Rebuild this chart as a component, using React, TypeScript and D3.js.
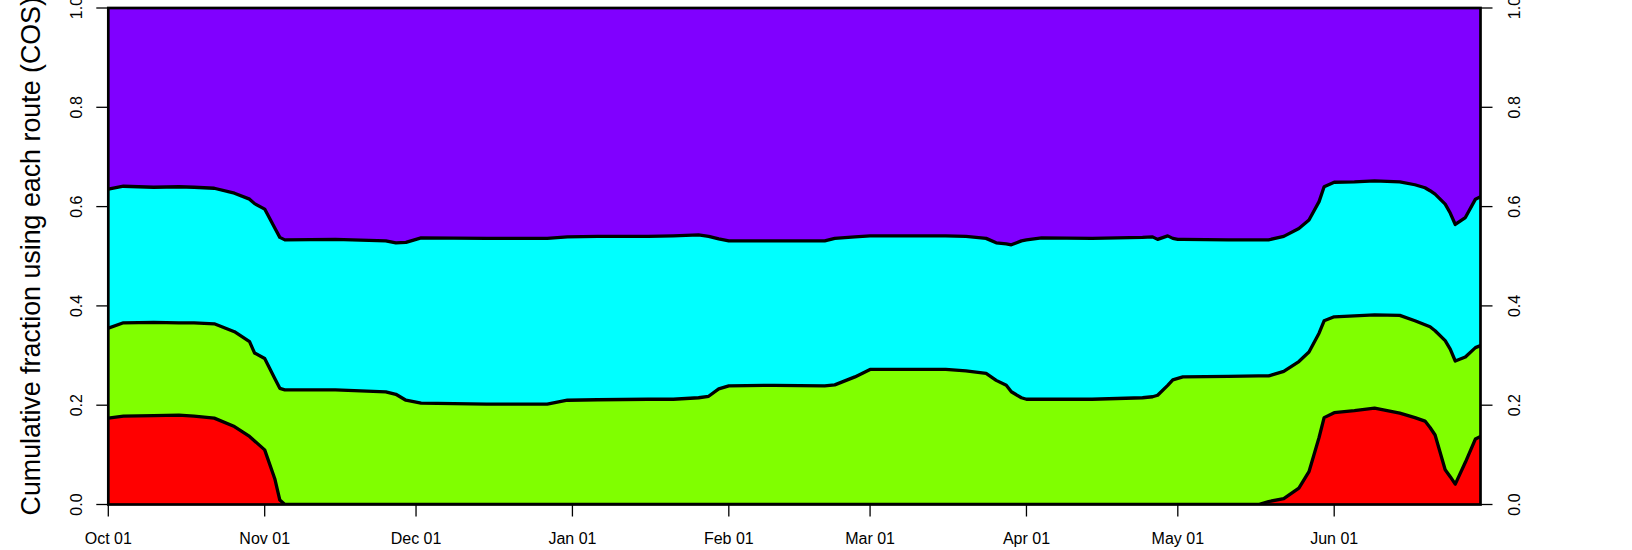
import React from "react";
import * as d3 from "d3";

const dates = [
  "2013-10-01","2013-10-04","2013-10-10","2013-10-15","2013-10-18","2013-10-22","2013-10-26","2013-10-29","2013-10-30",
  "2013-11-01","2013-11-03","2013-11-04","2013-11-05","2013-11-15","2013-11-25","2013-11-27","2013-11-29",
  "2013-12-02","2013-12-15","2013-12-27","2013-12-31",
  "2014-01-06","2014-01-16","2014-01-21","2014-01-26","2014-01-28","2014-01-30",
  "2014-02-01","2014-02-10","2014-02-20","2014-02-22","2014-02-26",
  "2014-03-01","2014-03-10","2014-03-16","2014-03-20","2014-03-24","2014-03-26","2014-03-28","2014-03-29","2014-03-31",
  "2014-04-01","2014-04-04","2014-04-14","2014-04-24","2014-04-26","2014-04-27","2014-04-29","2014-04-30",
  "2014-05-01","2014-05-02","2014-05-11","2014-05-17","2014-05-19","2014-05-22","2014-05-25","2014-05-27","2014-05-29","2014-05-30",
  "2014-06-01","2014-06-05","2014-06-09","2014-06-14","2014-06-17","2014-06-19","2014-06-20","2014-06-21","2014-06-23","2014-06-24","2014-06-25","2014-06-27","2014-06-29","2014-06-30",
];

// cumulative top of the red route
const redTop = [
  0.174,0.178,0.179,0.180,0.178,0.174,0.157,0.137,0.128,
  0.110,0.052,0.009,0,0,0,0,0,
  0,0,0,0,
  0,0,0,0,0,0,
  0,0,0,0,0,
  0,0,0,0,0,0,0,0,0,
  0,0,0,0,0,0,0,0,
  0,0,0,0,0.006,0.012,0.033,0.066,0.135,0.175,
  0.185,0.189,0.194,0.184,0.175,0.168,0.155,0.140,0.070,0.056,0.041,0.085,0.132,0.137,
];

// cumulative top of the green route
const greenTop = [
  0.355,0.366,0.367,0.366,0.366,0.364,0.348,0.328,0.305,
  0.294,0.254,0.234,0.231,0.231,0.227,0.222,0.210,
  0.204,0.202,0.202,0.210,
  0.211,0.212,0.212,0.215,0.218,0.233,
  0.239,0.240,0.239,0.241,0.257,
  0.272,0.272,0.272,0.269,0.264,0.250,0.240,0.227,0.215,
  0.212,0.212,0.212,0.215,0.217,0.220,0.240,0.251,
  0.254,0.257,0.258,0.259,0.259,0.268,0.288,0.307,0.345,0.370,
  0.378,0.380,0.382,0.381,0.370,0.362,0.358,0.350,0.330,0.313,0.289,0.297,0.316,0.320,
];

// cumulative top of the cyan route
const cyanTop = [
  0.635,0.641,0.639,0.640,0.639,0.637,0.627,0.615,0.606,
  0.595,0.557,0.538,0.533,0.534,0.531,0.527,0.528,
  0.537,0.536,0.536,0.539,
  0.540,0.540,0.541,0.543,0.540,0.535,
  0.531,0.531,0.531,0.536,0.539,
  0.541,0.541,0.541,0.540,0.536,0.527,0.525,0.523,0.531,
  0.533,0.537,0.536,0.538,0.539,0.534,0.541,0.536,
  0.534,0.534,0.533,0.533,0.533,0.540,0.556,0.573,0.610,0.640,
  0.649,0.650,0.652,0.650,0.644,0.638,0.632,0.625,0.605,0.587,0.564,0.578,0.615,0.620,
];

const xTickDates = ["2013-10-01","2013-11-01","2013-12-01","2014-01-01","2014-02-01","2014-03-01","2014-04-01","2014-05-01","2014-06-01"];
const xTickLabels = ["Oct 01","Nov 01","Dec 01","Jan 01","Feb 01","Mar 01","Apr 01","May 01","Jun 01"];
const yTicks = [0, 0.2, 0.4, 0.6, 0.8, 1.0];
const yTickLabels = ["0.0", "0.2", "0.4", "0.6", "0.8", "1.0"];
const routeColors = ["#FF0000", "#80FF00", "#00FFFF", "#8000FF"];
const yLabel = "Cumulative fraction using each route (COS)";

export default function App() {
  const W = 1632, H = 550;
  const left = 108.3, right = 1480.5, top = 8, bottom = 504.5;
  const parse = d3.utcParse("%Y-%m-%d");
  const x = d3.scaleUtc().domain([parse("2013-10-01")!, parse("2014-06-30")!]).range([left, right]);
  const y = d3.scaleLinear().domain([0, 1]).range([bottom, top]);

  const pts = dates.map((d, i) => ({ t: parse(d)!, r: redTop[i], g: greenTop[i], c: cyanTop[i] }));
  type P = typeof pts[number];
  const band = (lo: (p: P) => number, hi: (p: P) => number) =>
    d3.area<P>().x((p) => x(p.t)).y0((p) => y(lo(p))).y1((p) => y(hi(p)))(pts) || "";
  const line = (f: (p: P) => number) => d3.line<P>().x((p) => x(p.t)).y((p) => y(f(p)))(pts) || "";

  const bands = [
    band(() => 0, (p) => p.r),
    band((p) => p.r, (p) => p.g),
    band((p) => p.g, (p) => p.c),
    band((p) => p.c, () => 1),
  ];
  const lines = [line((p) => p.r), line((p) => p.g), line((p) => p.c)];
  const font = "'Liberation Sans', Arial, Helvetica, sans-serif";

  return (
    <svg width={W} height={H} style={{ position: "absolute", left: 0, top: 0, background: "#fff" }} fontFamily={font}>
      <defs>
        <clipPath id="plotclip">
          <rect x={left} y={top} width={right - left} height={bottom - top} />
        </clipPath>
      </defs>
      <g clipPath="url(#plotclip)">
        {bands.map((d, i) => (
          <path key={i} d={d} fill={routeColors[i]} stroke="none" />
        ))}
        {lines.map((d, i) => (
          <path key={i} d={d} fill="none" stroke="#000" strokeWidth={3.3} strokeLinejoin="round" strokeLinecap="round" />
        ))}
      </g>
      <rect x={left} y={top} width={right - left} height={bottom - top} fill="none" stroke="#000" strokeWidth={2.7} />
      {/* bottom axis */}
      {xTickDates.map((d, i) => {
        const xx = x(parse(d)!);
        return (
          <g key={d}>
            <line x1={xx} x2={xx} y1={bottom} y2={bottom + 12} stroke="#000" strokeWidth={1.3} />
            <text x={xx} y={544} textAnchor="middle" fontSize={16}>{xTickLabels[i]}</text>
          </g>
        );
      })}
      {/* left axis */}
      {yTicks.map((v, i) => (
        <g key={"l" + v}>
          <line x1={left - 12} x2={left} y1={y(v)} y2={y(v)} stroke="#000" strokeWidth={1.3} />
          <text transform={`translate(82,${y(v)}) rotate(-90)`} textAnchor="middle" fontSize={16}>{yTickLabels[i]}</text>
        </g>
      ))}
      {/* right axis */}
      {yTicks.map((v, i) => (
        <g key={"r" + v}>
          <line x1={right} x2={right + 12} y1={y(v)} y2={y(v)} stroke="#000" strokeWidth={1.3} />
          <text transform={`translate(1520,${y(v)}) rotate(-90)`} textAnchor="middle" fontSize={16}>{yTickLabels[i]}</text>
        </g>
      ))}
      <text transform={`translate(40,${(top + bottom) / 2}) rotate(-90)`} textAnchor="middle" fontSize={26.8}>{yLabel}</text>
    </svg>
  );
}
